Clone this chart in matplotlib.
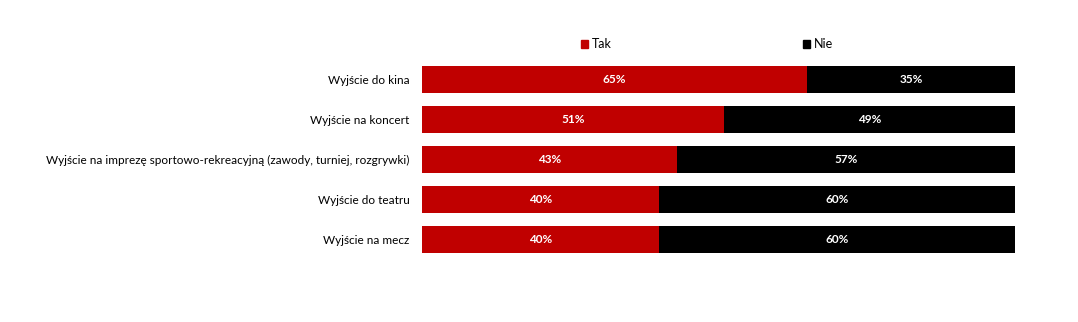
import matplotlib
matplotlib.use('Agg')
import matplotlib.pyplot as plt
from matplotlib.patches import Patch

plt.rcParams['font.family'] = ['Lato', 'DejaVu Sans']

# Dane
kategorie = [
    'Wyjście do kina',
    'Wyjście na koncert',
    'Wyjście na imprezę sportowo-rekreacyjną (zawody, turniej, rozgrywki)',
    'Wyjście do teatru',
    'Wyjście na mecz',
]
tak = [65, 51, 43, 40, 40]
nie = [35, 49, 57, 60, 60]

CZERWONY = '#C00000'
CZARNY = '#000000'

fig = plt.figure(figsize=(10.78, 3.22), dpi=100)
ax = fig.add_axes([422 / 1078, 1 - 259.5 / 322, (1015 - 422) / 1078, 200 / 322])

y = list(range(len(kategorie)))
ax.barh(y, tak, height=0.68, color=CZERWONY)
ax.barh(y, nie, left=tak, height=0.68, color=CZARNY)

# Etykiety procentowe
for i in y:
    ax.text(tak[i] / 2, i, f'{tak[i]}%', ha='center', va='center',
            color='white', fontsize=8.5, fontweight='bold')
    ax.text(tak[i] + nie[i] / 2, i, f'{nie[i]}%', ha='center', va='center',
            color='white', fontsize=8.5, fontweight='bold')

ax.set_xlim(0, 100)
ax.set_ylim(len(kategorie) - 0.5, -0.5)
ax.set_yticks(y)
ax.set_yticklabels(kategorie, fontsize=8.5)
ax.tick_params(axis='y', length=0, pad=9)
ax.set_xticks([])
for s in ax.spines.values():
    s.set_visible(False)

# Legenda
uchwyty = [Patch(color=CZERWONY, label='Tak'), Patch(color=CZARNY, label='Nie')]
fig.legend(handles=uchwyty, loc='center', bbox_to_anchor=(707 / 1078, 1 - 44 / 322),
           ncol=2, frameon=False, fontsize=9, handlelength=0.6, handleheight=0.6,
           handletextpad=0.3, columnspacing=15.3)

fig.savefig('out.png', dpi=100)
